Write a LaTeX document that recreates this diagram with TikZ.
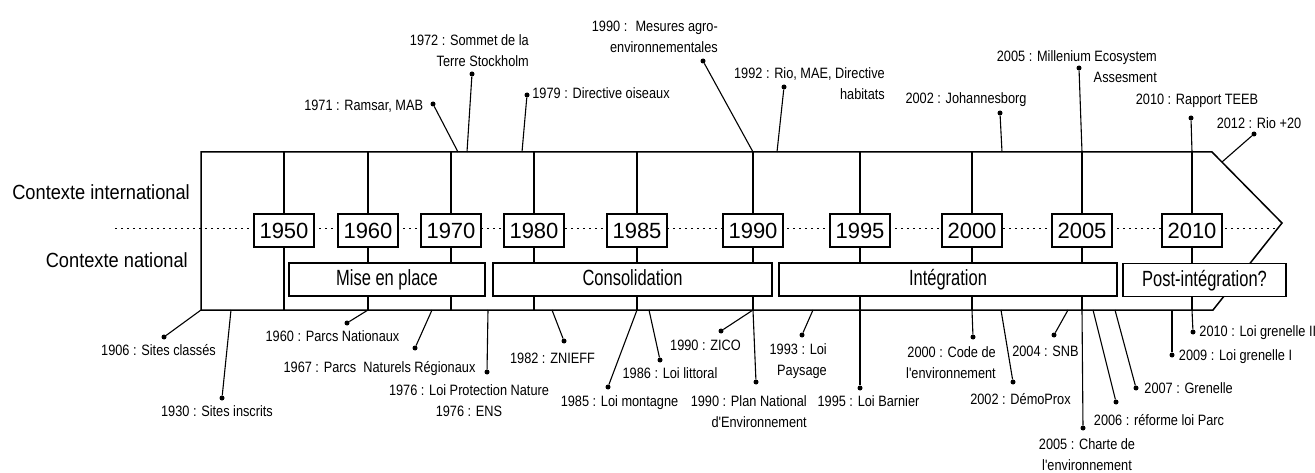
\documentclass[tikz,border=0pt]{standalone}
\usepackage{fontspec}
\setmainfont{Liberation Sans}
\newfontfamily\narrowfont[FakeStretch=0.85]{Liberation Sans}
\newfontfamily\phasefont[FakeStretch=0.75]{Liberation Sans}
\newfontfamily\ctxfont[FakeStretch=0.89]{Liberation Sans}
\usetikzlibrary{positioning}

\tikzset{
  arrowframe/.style={line width=1.5pt, line join=miter},
  dotline/.style={line width=1pt, dash pattern=on 2pt off 4pt},
  yearbox/.style={draw, fill=white, line width=1.2pt, minimum width=60pt, minimum height=33pt, inner sep=0pt, font=\fontsize{22}{26}\selectfont},
  phase/.style={draw, fill=white, line width=1.2pt, minimum height=33pt, inner sep=0pt, text height=15.8pt, text depth=3pt, font=\phasefont\fontsize{22}{26}\selectfont},
  ctx/.style={inner sep=0pt, text height=14.7pt, text depth=0pt, font=\ctxfont\fontsize{20.5}{24}\selectfont},
  evdot/.style={circle, fill, inner sep=0pt, minimum size=5pt},
  evt/.style={inner sep=0pt, text height=10.5pt, text depth=0pt, font=\narrowfont\fontsize{15}{21}\selectfont},
  evtml/.style={inner sep=0pt, font=\narrowfont\fontsize{15}{21}\selectfont},
  evline/.style={line width=1.1pt},
}

\begin{document}
\begin{tikzpicture}[x=1pt, y=-1pt]
  \useasboundingbox (0,0) rectangle (1315,473);

  % Frame
  \coordinate (tl) at (201,152);
  \coordinate (tr) at (1212,152);
  \coordinate (tip) at (1282,223);
  \coordinate (br) at (1213,310);
  \coordinate (bl) at (201,310);
  \draw[arrowframe] (tl) -- (tr) -- (tip) -- (br) -- (bl) -- cycle;
  \coordinate (dl) at (115,229);
  \coordinate (dr) at (1276,229);
  \draw[dotline] (dl) -- (dr);

  \node[ctx, anchor=east] (intl) at (190,192) {Contexte international};
  \node[ctx, anchor=east] (natl) at (188,260) {Contexte national};

  % Years
  \foreach \yr/\x in {1950/284, 1960/368, 1970/451, 1980/534, 1985/637,
                      1990/753, 1995/860, 2000/972, 2005/1082, 2010/1192} {
    \coordinate (t\yr) at (\x,152);
    \coordinate (b\yr) at (\x,310);
    \draw[line width=1.2pt] (t\yr) -- (b\yr);
    \node[yearbox] (y\yr) at (\x,230.5) {\yr};
  }

  % Phases
  \node[phase, minimum width=196pt] (mise) at (387,279.5) {Mise en place};
  \node[phase, minimum width=279pt] (conso) at (632.5,279.5) {Consolidation};
  \node[phase, minimum width=338pt] (integ) at (948,279.5) {Intégration};
  \node[phase, minimum width=163pt] (post) at (1204.5,280) {Post-intégration?};

  % International
  \node[evdot] (ramsar) at (433,104) {};
  \node[evt, left=7pt of ramsar, yshift=-1pt] (ramsar-txt) {1971 : Ramsar, MAB};
  \node[evdot] (stockholm) at (472,74) {};
  \node[evtml, align=right, anchor=north east] (stockholm-txt) at (529,34.6) {1972 : Sommet de la\\Terre Stockholm};
  \node[evdot] (oiseaux) at (527,95) {};
  \node[evt, right=2.5pt of oiseaux, yshift=2pt] (oiseaux-txt) {1979 : Directive oiseaux};
  \node[evdot] (mae90) at (703,61) {};
  \node[evtml, align=right, anchor=north east] (mae90-txt) at (718,21) {1990 :~ Mesures agro-\\environnementales};
  \node[evdot] (rio92) at (784,87) {};
  \node[evtml, align=right, anchor=north east] (rio92-txt) at (885,67) {1992 : Rio, MAE, Directive\\habitats};
  \node[evdot] (johannes) at (1000,113) {};
  \node[evt, above=7pt of johannes, xshift=-34pt] (johannes-txt) {2002 : Johannesborg};
  \node[evdot] (mea) at (1079,68) {};
  \node[evtml, align=right, anchor=north east] (mea-txt) at (1157,50.5) {2005 : Millenium Ecosystem\\Assesment};
  \node[evdot] (teeb) at (1191,118) {};
  \node[evt, above=11pt of teeb, xshift=6pt] (teeb-txt) {2010 : Rapport TEEB};
  \node[evdot] (rio20) at (1254,134) {};
  \node[evt, above=3pt of rio20, xshift=5pt] (rio20-txt) {2012 : Rio +20};

  % National
  \node[evdot] (classes) at (164,337) {};
  \node[evt, below=5pt of classes, xshift=-5.5pt] (classes-txt) {1906 : Sites classés};
  \node[evdot] (inscrits) at (222,398) {};
  \node[evt, below=5.5pt of inscrits, xshift=-5pt] (inscrits-txt) {1930 : Sites inscrits};
  \node[evdot] (pn) at (347,323) {};
  \node[evt, below=5.5pt of pn, xshift=-14.5pt] (pn-txt) {1960 : Parcs Nationaux};
  \node[evdot] (pnr) at (415,348) {};
  \node[evt, below=11pt of pnr, xshift=-35.5pt] (pnr-txt) {1967 : Parcs~ Naturels Régionaux};
  \node[evdot] (ens) at (487,372) {};
  \node[evtml, align=center, anchor=north] (ens-txt) at (469,384.7) {1976 : Loi Protection Nature\\1976 : ENS};
  \node[evdot] (znieff) at (564,341) {};
  \node[evt, below=9pt of znieff, xshift=-11.5pt] (znieff-txt) {1982 : ZNIEFF};
  \node[evdot] (montagne) at (608,387) {};
  \node[evt, below=6pt of montagne, xshift=11.5pt] (montagne-txt) {1985 : Loi montagne};
  \node[evdot] (littoral) at (660,360) {};
  \node[evt, below=5pt of littoral, xshift=10pt] (littoral-txt) {1986 : Loi littoral};
  \node[evdot] (zico) at (721,331) {};
  \node[evt, below=6pt of zico, xshift=-15.5pt] (zico-txt) {1990 : ZICO};
  \node[evdot] (pne) at (756,382) {};
  \node[evtml, align=right, anchor=north east] (pne-txt) at (807,395.3) {1990 : Plan National\\d'Environnement};
  \node[evdot] (paysage) at (802,335) {};
  \node[evtml, align=right, anchor=north east] (paysage-txt) at (827,343) {1993 : Loi\\Paysage};
  \node[evdot] (barnier) at (860,388) {};
  \node[evt, below=5.5pt of barnier, xshift=8.5pt] (barnier-txt) {1995 : Loi Barnier};
  \node[evdot] (code) at (973,337) {};
  \node[evtml, align=right, anchor=north east] (code-txt) at (996,346) {2000 : Code de\\l'environnement};
  \node[evdot] (demoprox) at (1013,382) {};
  \node[evt, below=9pt of demoprox, xshift=7.5pt] (demoprox-txt) {2002 : DémoProx};
  \node[evdot] (snb) at (1054,335) {};
  \node[evt, below=8pt of snb, xshift=-8.5pt] (snb-txt) {2004 : SNB};
  \node[evdot] (charte) at (1083,428) {};
  \node[evtml, align=center, anchor=north] (charte-txt) at (1087,438.5) {2005 : Charte de\\l'environnement};
  \node[evdot] (reforme) at (1116,402) {};
  \node[evt, below=10pt of reforme, xshift=43pt] (reforme-txt) {2006 : réforme loi Parc};
  \node[evdot] (grenelle) at (1136,388) {};
  \node[evt, right=5.5pt of grenelle] (grenelle-txt) {2007 : Grenelle};
  \node[evdot] (grenelleI) at (1172,355) {};
  \node[evt, right=4pt of grenelleI] (grenelleI-txt) {2009 : Loi grenelle I};
  \node[evdot] (grenelleII) at (1193,332) {};
  \node[evt, right=3.5pt of grenelleII, yshift=1pt] (grenelleII-txt) {2010 : Loi grenelle II};

  % Connect the events
  \foreach \n/\x in {ramsar/458, stockholm/467, oiseaux/522, rio92/777, johannes/1002}
    \coordinate (\n-e) at (\x,152);
  \coordinate (rio20-e) at (1222,162);
  \foreach \n/\x in {inscrits/231, pnr/432, ens/488, znieff/552, littoral/649, paysage/813,
                     demoprox/1001, snb/1068, reforme/1093, grenelle/1115, grenelleI/1172}
    \coordinate (\n-e) at (\x,310);
  \foreach \a/\b in {ramsar-e/ramsar, stockholm-e/stockholm, oiseaux-e/oiseaux, t1990/mae90,
                     rio92-e/rio92, johannes-e/johannes, t2005/mea, t2010/teeb, rio20-e/rio20,
                     bl/classes, inscrits-e/inscrits, b1960/pn, pnr-e/pnr, ens-e/ens,
                     znieff-e/znieff, b1985/montagne, littoral-e/littoral, b1990/zico, b1990/pne,
                     paysage-e/paysage, b1995/barnier, b2000/code, demoprox-e/demoprox, snb-e/snb,
                     b2005/charte, reforme-e/reforme, grenelle-e/grenelle, grenelleI-e/grenelleI,
                     b2010/grenelleII}
    \draw[evline] (\a) -- (\b);
\end{tikzpicture}
\end{document}
